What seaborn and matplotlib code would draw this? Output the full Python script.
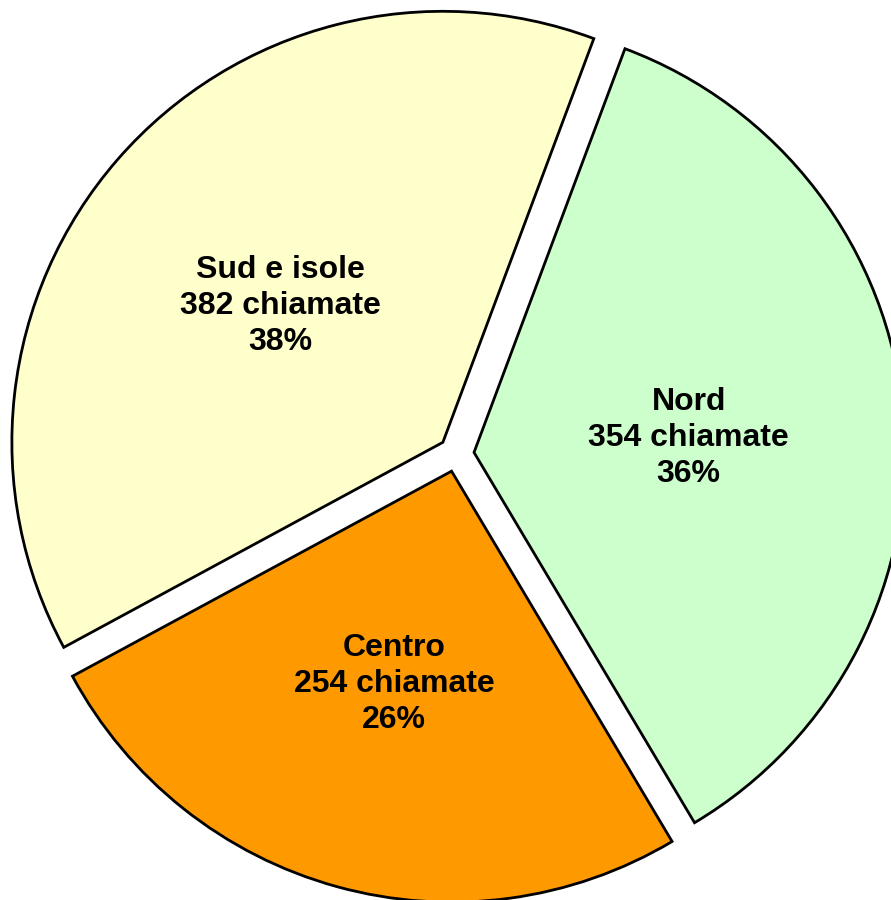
import matplotlib
matplotlib.use("Agg")
import matplotlib.pyplot as plt
import matplotlib.transforms as mtransforms
import seaborn as sns

sns.set_style("white")
plt.rcParams['font.family'] = ['Liberation Sans', 'DejaVu Sans']

categories = ["Nord", "Centro", "Sud e isole"]
calls = [354, 254, 382]
percents = [36, 26, 38]
colors = ["#CCFFCC", "#FF9900", "#FFFFCC"]

labels = [f"{c}\n{v} chiamate\n{p}%" for c, v, p in zip(categories, calls, percents)]

W, H = 891, 900
fig = plt.figure(figsize=(W / 100, H / 100), dpi=100)
ax = fig.add_axes([0, 0, 1, 1])

cx, cy, r = 456.3, 454.0, 431.0
wedges, texts = ax.pie(
    calls,
    labels=labels,
    colors=colors,
    startangle=69.5,
    counterclock=False,
    explode=[17.8] * 3,
    radius=r,
    center=(0, 0),
    labeldistance=0.5,
    wedgeprops=dict(edgecolor="black", linewidth=2.0),
    textprops=dict(fontsize=23, fontweight="bold", color="black", linespacing=1.25),
    frame=False,
)
shift = mtransforms.ScaledTranslation(0, -5 / 100, fig.dpi_scale_trans)
for t in texts:
    t.set_ha("center")
    t.set_va("center")
    t.set_transform(t.get_transform() + shift)

ax.set_xlim(-cx, W - cx)
ax.set_ylim(-(H - cy), cy)
ax.set_aspect("equal")
ax.axis("off")

fig.savefig("out.png", dpi=100)
